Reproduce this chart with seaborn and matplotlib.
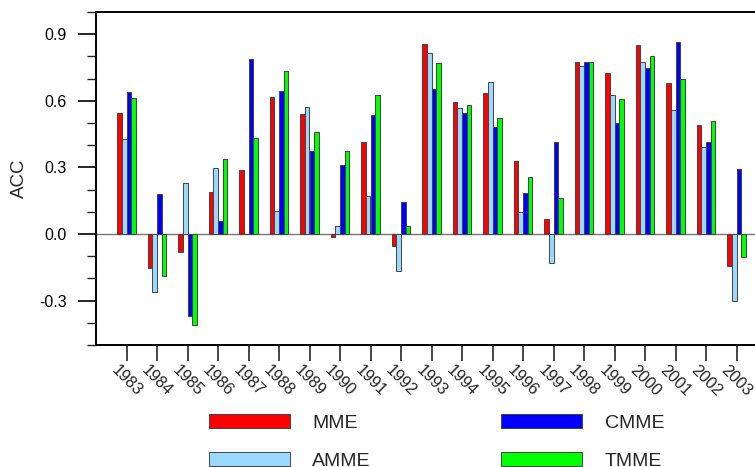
import numpy as np
import pandas as pd
import matplotlib
matplotlib.use("Agg")
import matplotlib.pyplot as plt
import matplotlib.transforms as mtransforms
from matplotlib.patches import Patch
from matplotlib.ticker import MultipleLocator, FixedLocator
import seaborn as sns

years = [str(y) for y in range(1983, 2004)]
mme = [0.546, -0.151, -0.079, 0.191, 0.290, 0.616, 0.541, -0.012, 0.413, -0.052,
       0.857, 0.596, 0.634, 0.330, 0.066, 0.777, 0.726, 0.852, 0.679, 0.490, -0.143]
amme = [0.428, -0.260, 0.230, 0.297, 0.0, 0.102, 0.571, 0.036, 0.170, -0.167,
        0.815, 0.568, 0.686, 0.097, -0.132, 0.756, 0.626, 0.777, 0.558, 0.393, -0.303]
cmme = [0.641, 0.181, -0.368, 0.058, 0.788, 0.646, 0.372, 0.309, 0.534, 0.142,
        0.653, 0.547, 0.484, 0.184, 0.414, 0.774, 0.502, 0.750, 0.865, 0.413, 0.294]
tmme = [0.611, -0.190, -0.408, 0.339, 0.432, 0.734, 0.460, 0.374, 0.626, 0.037,
        0.770, 0.581, 0.523, 0.256, 0.164, 0.774, 0.608, 0.800, 0.700, 0.507, -0.105]
series_names = ["MME", "AMME", "CMME", "TMME"]
series_colors = ["#FF0000", "#99D8FF", "#0000FF", "#00FF00"]

rows = []
for name, vals in zip(series_names, [mme, amme, cmme, tmme]):
    for y, v in zip(years, vals):
        rows.append({"year": y, "model": name, "acc": v})
df = pd.DataFrame(rows)

sns.set_theme(style="white")
plt.rcParams["font.family"] = ["Liberation Sans", "DejaVu Sans"]

fig = plt.figure(figsize=(7.55, 4.67), dpi=100)
ax = fig.add_axes([96 / 755, 1 - 345 / 467, 671 / 755, 333 / 467])

ax.axhline(0, color="#777777", lw=1.0, zorder=0.5)
sns.barplot(data=df, x="year", y="acc", hue="model", order=years,
            hue_order=series_names, palette=series_colors, width=0.6,
            errorbar=None, edgecolor="#444444", linewidth=0.7,
            legend=False, ax=ax, zorder=2, saturation=1)

ax.set_xlim(-1, 21)
ax.set_ylim(-0.5, 1.0)
ax.yaxis.set_major_locator(FixedLocator([-0.3, 0.0, 0.3, 0.6, 0.9]))
ax.yaxis.set_minor_locator(MultipleLocator(0.1))
ax.set_yticklabels(["-0.3", "0.0", "0.3", "0.6", "0.9"], fontsize=11.5)
ax.set_xticks(range(len(years)))
ax.set_xticklabels(years, rotation=-45, ha="center", fontsize=11.8)
offset = mtransforms.ScaledTranslation(-3.5 / 100, 0, fig.dpi_scale_trans)
for lbl in ax.get_xticklabels():
    lbl.set_transform(lbl.get_transform() + offset)

ax.tick_params(axis="y", which="major", direction="out", length=13, width=1.2,
               pad=8, colors="black", left=True)
ax.tick_params(axis="y", which="minor", direction="out", length=6.5, width=1.0,
               left=True)
ax.tick_params(axis="x", which="major", direction="out", length=11.5, width=1.2,
               pad=1, bottom=True)
for s in ax.spines.values():
    s.set_color("black")
    s.set_linewidth(1.4)

ax.set_xlabel("")
ax.set_ylabel("ACC", fontsize=13.5)
ax.yaxis.set_label_coords(-0.1013, 0.5)

handles = [Patch(facecolor=c, edgecolor="#444444", linewidth=0.7) for c in series_colors]
fig.legend(handles, series_names, ncol=2, loc="upper left",
           bbox_to_anchor=(209 / 755, 1 - 414 / 467), frameon=False,
           borderpad=0, borderaxespad=0, fontsize=14, handlelength=4.17,
           handleheight=0.72, handletextpad=1.15, columnspacing=6.7,
           labelspacing=1.06)

fig.savefig("out.png", dpi=100)
